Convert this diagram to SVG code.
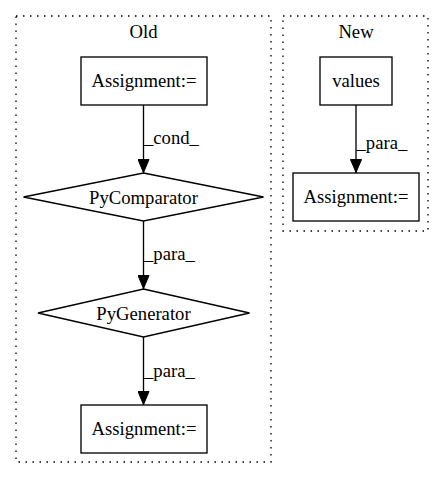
<svg xmlns="http://www.w3.org/2000/svg" width="445" height="480" viewBox="0 0 445 480">
<defs>
<style>
text{font-family:"Liberation Serif","Times New Roman",serif;font-size:18.67px;fill:#000}
.c{text-anchor:middle}
.cl{fill:none;stroke:#000;stroke-width:1.33;stroke-dasharray:1.5,5.5}
.n{fill:#fff;stroke:#000;stroke-width:1.33}
.e{fill:none;stroke:#000;stroke-width:1.33}
</style>
<marker id="ah" viewBox="0 0 14 12" refX="14" refY="6" markerWidth="14" markerHeight="12" markerUnits="userSpaceOnUse" orient="auto">
<path d="M0.5,0.5 L13.5,6 L0.5,11.5 Z" fill="#000" stroke="#000" stroke-width="1"/>
</marker>
</defs>
<rect width="445" height="480" fill="#fff"/>
<g id="cluster_old">
<rect class="cl" x="16" y="16" width="255" height="446"/>
<text class="c" x="143.5" y="37.5">Old</text>
</g>
<g id="cluster_new">
<rect class="cl" x="283" y="16" width="145" height="215"/>
<text class="c" x="356" y="37.5">New</text>
</g>
<g id="connectors">
<path class="e" d="M143.5,105 L143.5,173" marker-end="url(#ah)"/>
<text x="144" y="144">_cond_</text>
<path class="e" d="M143.5,221 L143.5,289" marker-end="url(#ah)"/>
<text x="144" y="260">_para_</text>
<path class="e" d="M143.5,337 L143.5,405" marker-end="url(#ah)"/>
<text x="144" y="377">_para_</text>
<path class="e" d="M356,105 L356,173" marker-end="url(#ah)"/>
<text x="356.5" y="149">_para_</text>
</g>
<g id="old_assign1">
<rect class="n" x="81" y="57" width="126" height="48"/>
<text class="c" x="144" y="86.5">Assignment:=</text>
</g>
<g id="pycomparator">
<polygon class="n" points="143.5,173 263.5,197 143.5,221 23.5,197"/>
<text class="c" x="143.5" y="203.5">PyComparator</text>
</g>
<g id="pygenerator">
<polygon class="n" points="143.5,289 249.5,313 143.5,337 38,313"/>
<text class="c" x="143.5" y="319.5">PyGenerator</text>
</g>
<g id="old_assign2">
<rect class="n" x="81" y="405" width="126" height="48"/>
<text class="c" x="144" y="435">Assignment:=</text>
</g>
<g id="values">
<rect class="n" x="320" y="57" width="72" height="48"/>
<text class="c" x="356" y="86.5">values</text>
</g>
<g id="new_assign">
<rect class="n" x="293" y="173" width="126" height="48"/>
<text class="c" x="356" y="203">Assignment:=</text>
</g>
</svg>
